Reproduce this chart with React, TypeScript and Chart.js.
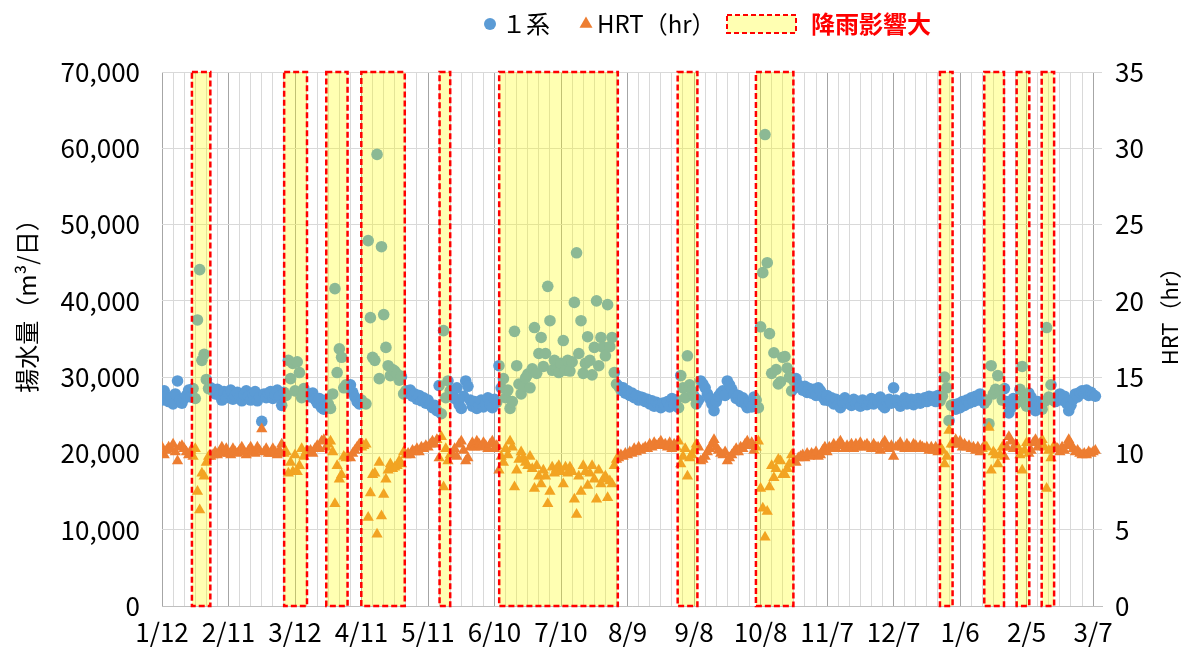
import React, { useEffect, useRef } from 'react';
import { Chart, registerables } from 'chart.js';

Chart.register(...registerables);

const FONT = '"Noto Sans CJK JP", "Noto Sans", sans-serif';

// x tick labels every 30 days starting 1/12
const xLabels = ['1/12', '2/11', '3/12', '4/11', '5/11', '6/10', '7/10', '8/9', '9/8', '10/8', '11/7', '12/7', '1/6', '2/5', '3/7'];

// rain-affected periods (day index from 1/12)
const rainStart = [13.5, 55.1, 74.1, 89.9, 125.2, 152.1, 232.6, 267.9, 350.9, 370.9, 385.5, 396.8];
const rainEnd = [21.8, 65.4, 83.7, 109.5, 130.0, 205.6, 241.5, 284.8, 356.6, 379.8, 391.2, 402.4];

// daily pumped volume, 1系 (m3/day)
const flow = [
  27000, 28200, 27500, 26800, 27300, 26500, 27800, 29500, 27000, 26600,
  27200, 27600, 28300, 27400, 28500, 27200, 37500, 44100, 32200, 33000,
  29700, 28500, 28600, 28200, 27800, 28400, 27600, 27000, 28100, 27300,
  27900, 28300, 27100, 27600, 28000, 27400, 26900, 27700, 28200, 27500,
  27000, 27800, 28100, 26900, 27400, 24200, 27800, 27300, 27900, 28100,
  27200, 27700, 28300, 27500, 26300, 28000, 27600, 32200, 29800, 31800,
  28200, 32000, 30600, 27300, 28500, 27600, 27800, 27400, 27900, 27100, 26600,
  27200, 26000, 25800, 27000, 26500, 25900, 27800, 41600, 30600, 33700,
  32600, 28600, 29000, 28600, 29000, 28000, 27400, 26800, 26500, 27000,
  26600, 26500, 47900, 37800, 32600, 32200, 59200, 29800, 47100, 38200,
  33900, 31500, 30200, 31000, 30800, 30400, 29600, 30100, 27800, 28200,
  27900, 28300, 27500, 27800, 27100, 27600, 26900, 27300, 26600, 27000,
  26400, 26000, 26300, 25600, 28900, 25200, 36100, 27300, 29500, 28200,
  28000, 27200, 28600, 26400, 25900, 27500, 29500, 28800, 27000, 26200,
  26800, 25900, 26300, 27000, 26100, 26600, 27300, 26500, 26000, 27100,
  26700, 31500, 28600, 29800, 27300, 28300, 25900, 26800, 36000, 31500,
  29100, 27800, 28800, 29900, 30400, 28600, 31100, 36500, 30500, 33100,
  35200, 31400, 33100, 41900, 37400, 30900, 32200, 31000, 30600, 31800,
  34800, 30900, 32200, 30800, 32000, 39800, 46300, 33100, 37400, 30500,
  31800, 35300, 32200, 30300, 33900, 40000, 31500, 35200, 33900, 32800,
  39500, 34000, 35200, 30600, 29100, 28800, 28300, 28600, 27900, 28200,
  27600, 27900, 27300, 27600, 27000, 27400, 27300, 26800, 27100, 26500, 26900,
  26200, 26700, 26400, 26000, 26600, 26300, 26800, 26100, 27200, 26500,
  27000, 26000, 30200, 28600, 27300, 32800, 29000, 28200, 27500, 26500,
  27000, 29500, 29100, 28600, 27800, 27200, 26500, 25600, 26800, 27500,
  27900, 28200, 27600, 29500, 29000, 28400, 27800, 27200, 27600, 26800,
  27300, 26500, 26000, 26700, 26100, 27400, 27000, 26000, 36600, 43700,
  61800, 45000, 35700, 30500, 33200, 31000, 29100, 29400, 32600, 32700,
  31200, 30000, 28200, 29500, 29800, 29000, 28600, 28300, 28800, 28000,
  28500, 27900, 28400, 27600, 28600, 28200, 27400, 27000, 27600, 26900,
  27300, 26500, 27100, 26400, 26000, 26700, 27300, 26600, 26900, 26300,
  27100, 26500, 26800, 26200, 27000, 26700, 26400, 26900, 27200, 26500,
  27000, 26800, 27400, 26300, 26000, 26800, 27100, 26600, 28600, 27000, 26700,
  26200, 26900, 27300, 26500, 26800, 27100, 26400, 26700, 27200, 26600,
  26900, 27300, 26800, 27500, 27000, 27400, 26800, 27600, 26900, 27500,
  30000, 28600, 24300, 26300, 26400, 25800, 26500, 26000, 26800, 26300,
  27000, 26600, 27300, 26800, 27500, 27000, 27800, 27200, 26600, 27000,
  23900, 31500, 27800, 28400, 30200, 28200, 27000, 28500, 26800, 25300,
  26000, 27200, 26500, 26800, 28400, 31400, 27500, 26200, 27900, 27400,
  26200, 25600, 26800, 26300, 25800, 26800, 36500, 27400, 29000, 27000,
  26800, 27200, 27800, 27000, 27500, 26600, 25600, 26300, 27100, 27800,
  27400, 28000, 28200, 27900, 28300, 27600, 28000, 27700, 27500,
];

// daily HRT (hr)
const hrt = [
  10.4, 9.9, 10.2, 10.4, 10.3, 10.6, 10.1, 9.5, 10.4, 10.5,
  10.3, 10.1, 9.9, 10.2, 9.8, 10.3, 7.5, 6.3, 8.7, 8.5,
  9.4, 9.8, 9.8, 9.9, 10.1, 9.9, 10.1, 10.4, 10.0, 10.3,
  10.0, 9.9, 10.3, 10.1, 10.0, 10.2, 10.4, 10.1, 9.9, 10.2,
  10.4, 10.1, 10.0, 10.4, 10.2, 11.6, 10.1, 10.3, 10.0, 10.0,
  10.3, 10.1, 9.9, 10.2, 10.6, 10.0, 10.1, 8.7, 9.4, 8.8,
  9.9, 8.8, 9.2, 10.3, 9.8, 10.1, 10.1, 10.2, 10.0, 10.3, 10.5,
  10.3, 10.8, 10.9, 10.4, 10.6, 10.8, 10.1, 6.7, 9.2, 8.3,
  8.6, 9.8, 9.7, 9.8, 9.7, 10.0, 10.2, 10.4, 10.6, 10.4,
  10.5, 10.6, 5.8, 7.4, 8.6, 8.7, 4.7, 9.4, 5.9, 7.3,
  8.3, 8.9, 9.3, 9.0, 9.1, 9.2, 9.5, 9.3, 10.1, 9.9,
  10.0, 9.9, 10.2, 10.1, 10.3, 10.1, 10.4, 10.3, 10.5, 10.4,
  10.6, 10.8, 10.6, 10.9, 9.7, 11.1, 7.8, 10.3, 9.5, 9.9,
  10.0, 10.3, 9.8, 10.6, 10.8, 10.2, 9.5, 9.7, 10.4, 10.7,
  10.4, 10.8, 10.6, 10.4, 10.7, 10.5, 10.3, 10.6, 10.8, 10.3,
  10.5, 8.9, 9.8, 9.4, 10.3, 9.9, 10.8, 10.4, 7.8, 8.9,
  9.6, 10.1, 9.7, 9.4, 9.2, 9.8, 9.0, 7.7, 9.2, 8.5,
  8.0, 8.9, 8.5, 6.7, 7.5, 9.1, 8.7, 9.0, 9.2, 8.8,
  8.0, 9.1, 8.7, 9.1, 8.8, 7.0, 6.0, 8.5, 7.5, 9.2,
  8.8, 7.9, 8.7, 9.2, 8.3, 7.0, 8.9, 8.0, 8.3, 8.5,
  7.1, 8.2, 8.0, 9.2, 9.6, 9.7, 9.9, 9.8, 10.0, 9.9,
  10.1, 10.0, 10.3, 10.1, 10.4, 10.2, 10.3, 10.4, 10.3, 10.6, 10.4,
  10.7, 10.5, 10.6, 10.8, 10.5, 10.6, 10.4, 10.7, 10.3, 10.6,
  10.4, 10.8, 9.3, 9.8, 10.3, 8.5, 9.7, 9.9, 10.2, 10.6,
  10.4, 9.5, 9.6, 9.8, 10.1, 10.3, 10.6, 10.9, 10.4, 10.2,
  10.0, 9.9, 10.1, 9.5, 9.7, 9.9, 10.1, 10.3, 10.1, 10.4,
  10.3, 10.6, 10.8, 10.5, 10.7, 10.2, 10.4, 10.8, 7.7, 6.4,
  4.5, 6.2, 7.8, 9.2, 8.4, 9.0, 9.6, 9.5, 8.6, 8.6,
  9.0, 9.3, 9.9, 9.5, 9.4, 9.7, 9.8, 9.9, 9.7, 10.0,
  9.8, 10.0, 9.9, 10.1, 9.8, 9.9, 10.2, 10.4, 10.1, 10.4,
  10.3, 10.6, 10.3, 10.6, 10.8, 10.5, 10.3, 10.5, 10.4, 10.6,
  10.3, 10.6, 10.4, 10.7, 10.4, 10.5, 10.6, 10.4, 10.3, 10.6,
  10.4, 10.4, 10.2, 10.6, 10.8, 10.4, 10.3, 10.5, 9.8, 10.4, 10.5,
  10.7, 10.4, 10.3, 10.6, 10.4, 10.3, 10.6, 10.5, 10.3, 10.5,
  10.4, 10.3, 10.4, 10.2, 10.4, 10.2, 10.4, 10.1, 10.4, 10.2,
  9.3, 9.8, 11.5, 10.6, 10.6, 10.9, 10.6, 10.8, 10.4, 10.6,
  10.4, 10.5, 10.3, 10.4, 10.2, 10.4, 10.1, 10.3, 10.5, 10.4,
  11.7, 8.9, 10.1, 9.9, 9.3, 9.9, 10.4, 9.8, 10.4, 11.1,
  10.8, 10.3, 10.6, 10.4, 9.9, 8.9, 10.2, 10.7, 10.0, 10.2,
  10.7, 10.9, 10.4, 10.6, 10.9, 10.4, 7.7, 10.2, 9.7, 10.4,
  10.4, 10.3, 10.1, 10.4, 10.2, 10.5, 10.9, 10.6, 10.3, 10.1,
  10.2, 10.0, 9.9, 10.0, 9.9, 10.1, 10.0, 10.1, 10.2,
];

const BLUE = '#5B9BD5';
const ORANGE = '#ED7D31';
const BOX_FILL = 'rgba(255, 255, 0, 0.3)';
const BOX_LINE = '#FF0000';

export default function App() {
  const ref = useRef<HTMLCanvasElement | null>(null);

  useEffect(() => {
    const canvas = ref.current;
    if (!canvas) return;
    const n = Math.min(flow.length, hrt.length);
    const flowPts = flow.slice(0, n).map((v, i) => ({ x: i, y: v }));
    const hrtPts = hrt.slice(0, n).map((v, i) => ({ x: i, y: v }));

    const rainPlugin = {
      id: 'rainBoxes',
      afterDatasetsDraw(chart: any) {
        const { ctx, chartArea, scales } = chart;
        const xs = scales.x;
        ctx.save();
        for (let i = 0; i < rainStart.length; i++) {
          const x1 = xs.getPixelForValue(rainStart[i]);
          const x2 = xs.getPixelForValue(rainEnd[i]);
          const y1 = chartArea.top;
          const y2 = chartArea.bottom;
          ctx.fillStyle = BOX_FILL;
          ctx.fillRect(x1, y1, x2 - x1, y2 - y1);
          ctx.strokeStyle = BOX_LINE;
          ctx.lineWidth = 2.5;
          ctx.setLineDash([6, 3]);
          ctx.strokeRect(x1, y1, x2 - x1, y2 - y1);
        }
        ctx.restore();
      },
    };

    const decoPlugin = {
      id: 'deco',
      afterDraw(chart: any) {
        const ctx = chart.ctx;
        ctx.save();
        // axis titles
        ctx.fillStyle = '#000';
        ctx.textAlign = 'center';
        ctx.textBaseline = 'middle';
        ctx.font = `24px ${FONT}`;
        ctx.save();
        ctx.translate(27, 300);
        ctx.rotate(-Math.PI / 2);
        ctx.fillText('揚水量（m³/日）', 0, 0);
        ctx.restore();
        ctx.save();
        ctx.translate(1170, 311);
        ctx.rotate(-Math.PI / 2);
        ctx.font = `22px ${FONT}`;
        ctx.fillText('HRT（hr）', 0, 0);
        ctx.restore();

        // legend
        const ly = 24;
        ctx.fillStyle = BLUE;
        ctx.beginPath();
        ctx.arc(490, ly, 6, 0, Math.PI * 2);
        ctx.fill();
        ctx.fillStyle = '#000';
        ctx.textAlign = 'left';
        ctx.font = `24px ${FONT}`;
        ctx.fillText('１系', 502, ly);

        ctx.fillStyle = ORANGE;
        const tr = 7.5;
        ctx.beginPath();
        ctx.moveTo(586, ly - tr);
        ctx.lineTo(586 + tr * 0.866, ly + tr * 0.5);
        ctx.lineTo(586 - tr * 0.866, ly + tr * 0.5);
        ctx.closePath();
        ctx.fill();
        ctx.fillStyle = '#000';
        ctx.fillText('HRT（hr）', 597, ly);

        ctx.fillStyle = BOX_FILL;
        ctx.fillRect(727, 15, 69, 18);
        ctx.strokeStyle = BOX_LINE;
        ctx.lineWidth = 2;
        ctx.setLineDash([5, 3]);
        ctx.strokeRect(727, 15, 69, 18);
        ctx.setLineDash([]);

        ctx.fillStyle = '#FF0000';
        ctx.font = `bold 24px ${FONT}`;
        ctx.fillText('降雨影響大', 811, ly);
        ctx.restore();
      },
    };

    const chart = new Chart(canvas, {
      type: 'scatter',
      data: {
        datasets: [
          {
            label: '1系',
            data: flowPts,
            yAxisID: 'y',
            pointStyle: 'circle',
            pointRadius: 5.8,
            pointHoverRadius: 5.8,
            backgroundColor: BLUE,
            borderWidth: 0,
            order: 2,
          },
          {
            label: 'HRT（hr）',
            data: hrtPts,
            yAxisID: 'y1',
            pointStyle: 'triangle',
            pointRadius: 6.5,
            pointHoverRadius: 6.5,
            backgroundColor: ORANGE,
            borderWidth: 0,
            order: 1,
          },
        ],
      },
      options: {
        responsive: false,
        animation: false,
        devicePixelRatio: 1,
        layout: { padding: { top: 72, left: 0, right: 0, bottom: 0 } },
        plugins: {
          legend: { display: false },
          tooltip: { enabled: false },
        },
        events: [],
        scales: {
          x: {
            type: 'linear',
            position: 'bottom',
            min: 0,
            max: 424,
            afterFit(scale: any) { scale.height = 42; },
            grid: {
              drawTicks: false,
              color: (c: any) => {
                const v = c.tick ? c.tick.value : 0;
                if (v > 420) return 'rgba(0,0,0,0)';
                return v % 30 === 0 ? '#A6A6A6' : '#D9D9D9';
              },
              lineWidth: 1,
            },
            border: { display: true, color: '#BFBFBF' },
            ticks: {
              stepSize: 5,
              includeBounds: false,
              autoSkip: false,
              maxRotation: 0,
              minRotation: 0,
              padding: 11,
              color: '#000',
              font: { family: FONT, size: 26 },
              callback: (v: any) => {
                const k = Math.round(Number(v));
                if (k % 30 === 0 && k / 30 < xLabels.length) return xLabels[k / 30];
                return '';
              },
            },
          },
          y: {
            type: 'linear',
            position: 'left',
            min: 0,
            max: 70000,
            afterFit(scale: any) { scale.width = 162; },
            grid: { drawTicks: false, color: '#D9D9D9' },
            border: { display: false },
            ticks: {
              stepSize: 10000,
              padding: 22,
              color: '#000',
              font: { family: FONT, size: 26 },
              callback: (v: any) => Number(v).toLocaleString('en-US'),
            },
          },
          y1: {
            type: 'linear',
            position: 'right',
            min: 0,
            max: 35,
            afterFit(scale: any) { scale.width = 85; },
            grid: { display: false, drawTicks: false },
            border: { display: false },
            ticks: {
              stepSize: 5,
              padding: 13,
              color: '#000',
              font: { family: FONT, size: 26 },
            },
          },
        },
      },
      plugins: [rainPlugin, decoPlugin],
    });

    return () => chart.destroy();
  }, []);

  return (
    <div style={{ position: 'fixed', left: 0, top: 0, width: 1187, height: 648, background: '#fff' }}>
      <canvas ref={ref} width={1187} height={648} style={{ display: 'block', width: 1187, height: 648 }} />
    </div>
  );
}
